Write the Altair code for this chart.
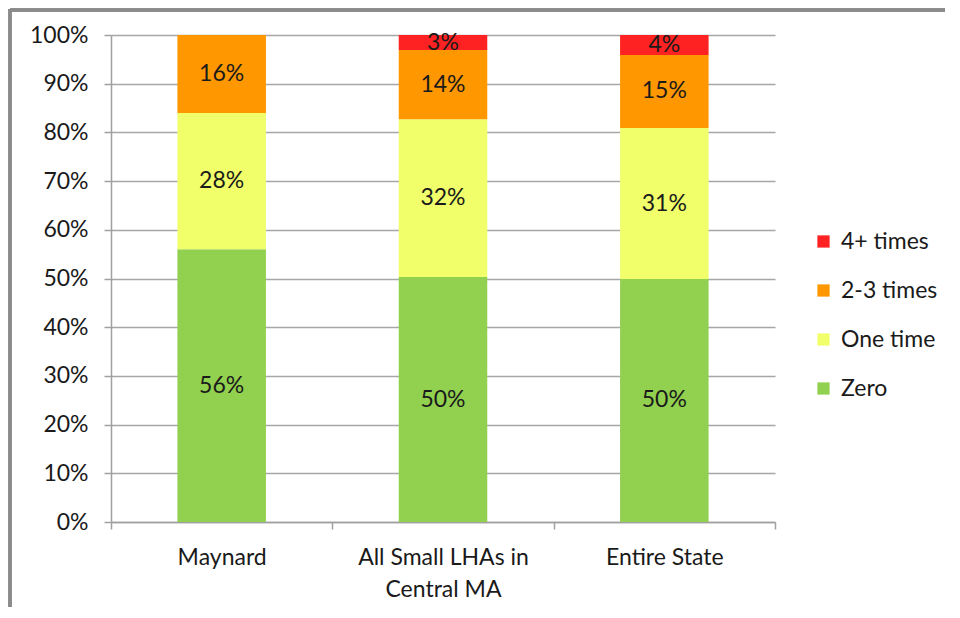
import altair as alt
import pandas as pd

categories = ["Maynard", "All Small LHAs in Central MA", "Entire State"]
series = ["Zero", "One time", "2-3 times", "4+ times"]
zero = [56.0, 50.3, 49.9]
one_time = [28.0, 32.4, 31.0]
two_three = [16.0, 14.2, 15.0]
four_plus = [0.0, 3.1, 4.1]
colors = ["#92D050", "#F0FF6A", "#FF9700", "#FF2222"]
y_ticks = [0, 10, 20, 30, 40, 50, 60, 70, 80, 90, 100]

rows = []
for s_i, (s, vals) in enumerate(zip(series, [zero, one_time, two_three, four_plus])):
    for c, v in zip(categories, vals):
        rows.append({"category": c, "series": s, "rank": s_i, "value": v})
df = pd.DataFrame(rows)

font = "Lato"
fs = 23
legend_order = series[::-1]
color_scale = alt.Scale(domain=series, range=colors)

x_scale = alt.Scale(paddingInner=0, paddingOuter=0)

x_enc = alt.X(
    "category:N",
    sort=categories,
    scale=x_scale,
    axis=alt.Axis(
        title=None,
        labelAngle=0,
        tickBand="extent",
        labelExpr="datum.value == 'All Small LHAs in Central MA' ? ['All Small LHAs in', 'Central MA'] : datum.value",
    ),
)

bars = alt.Chart(df).mark_bar(width=alt.RelativeBandSize(0.4)).encode(
    x=x_enc,
    y=alt.Y(
        "value:Q",
        stack="zero",
        scale=alt.Scale(domain=[0, 100], nice=False),
        axis=alt.Axis(
            title=None,
            values=y_ticks,
            labelExpr="datum.value + '%'",
            grid=True,
        ),
    ),
    color=alt.Color(
        "series:N",
        scale=color_scale,
        sort=legend_order,
        legend=alt.Legend(
            title=None,
            orient="none",
            legendX=701,
            legendY=195,
            symbolType="square",
            symbolSize=150,
            symbolStrokeWidth=0,
            labelFontSize=fs,
            labelFont=font,
            labelColor="#1a1a1a",
            rowPadding=25,
            labelOffset=6,
            values=legend_order,
        ),
    ),
    order=alt.Order("rank:Q", sort="ascending"),
)

labels = (
    alt.Chart(df)
    .transform_filter("datum.value > 0")
    .transform_stack(
        stack="value", groupby=["category"], sort=[alt.SortField("rank", order="ascending")], as_=["y0", "y1"]
    )
    .transform_calculate(mid="(datum.y0 + datum.y1) / 2", label="format(datum.value, '.0f') + '%'")
    .mark_text(font=font, fontSize=fs, color="#1a1a1a", baseline="middle", align="center")
    .encode(x=alt.X("category:N", sort=categories, scale=x_scale), y=alt.Y("mid:Q"), text="label:N")
)

frame_top = alt.Chart(df).mark_rule(color="#8a8a8a", strokeWidth=2.5).encode(
    x=alt.value(-101), x2=alt.value(860), y=alt.value(-25)
)
frame_left = alt.Chart(df).mark_rule(color="#8a8a8a", strokeWidth=2.5).encode(
    x=alt.value(-101), y=alt.value(-26), y2=alt.value(600)
)

chart = (
    alt.layer(bars, labels, frame_top, frame_left)
    .properties(
        width=664,
        height=487,
        autosize=alt.AutoSizeParams(type="none"),
        padding={"left": 103, "top": 27, "right": 170, "bottom": 85},
    )
    .configure_view(stroke=None)
    .configure_axis(
        labelFont=font,
        labelFontSize=fs,
        labelColor="#1a1a1a",
        domainColor="#a0a0a0",
        domainWidth=1.5,
        tickColor="#a0a0a0",
        tickWidth=1.5,
        tickSize=7,
        gridColor="#a6a6a6",
        gridWidth=1.5,
        labelPadding=16,
        labelLineHeight=32,
    )
    .configure_axisX(labelPadding=17, labelBaseline="top")
)

chart.save("out.html", embed_options={"renderer": "svg", "actions": False})
